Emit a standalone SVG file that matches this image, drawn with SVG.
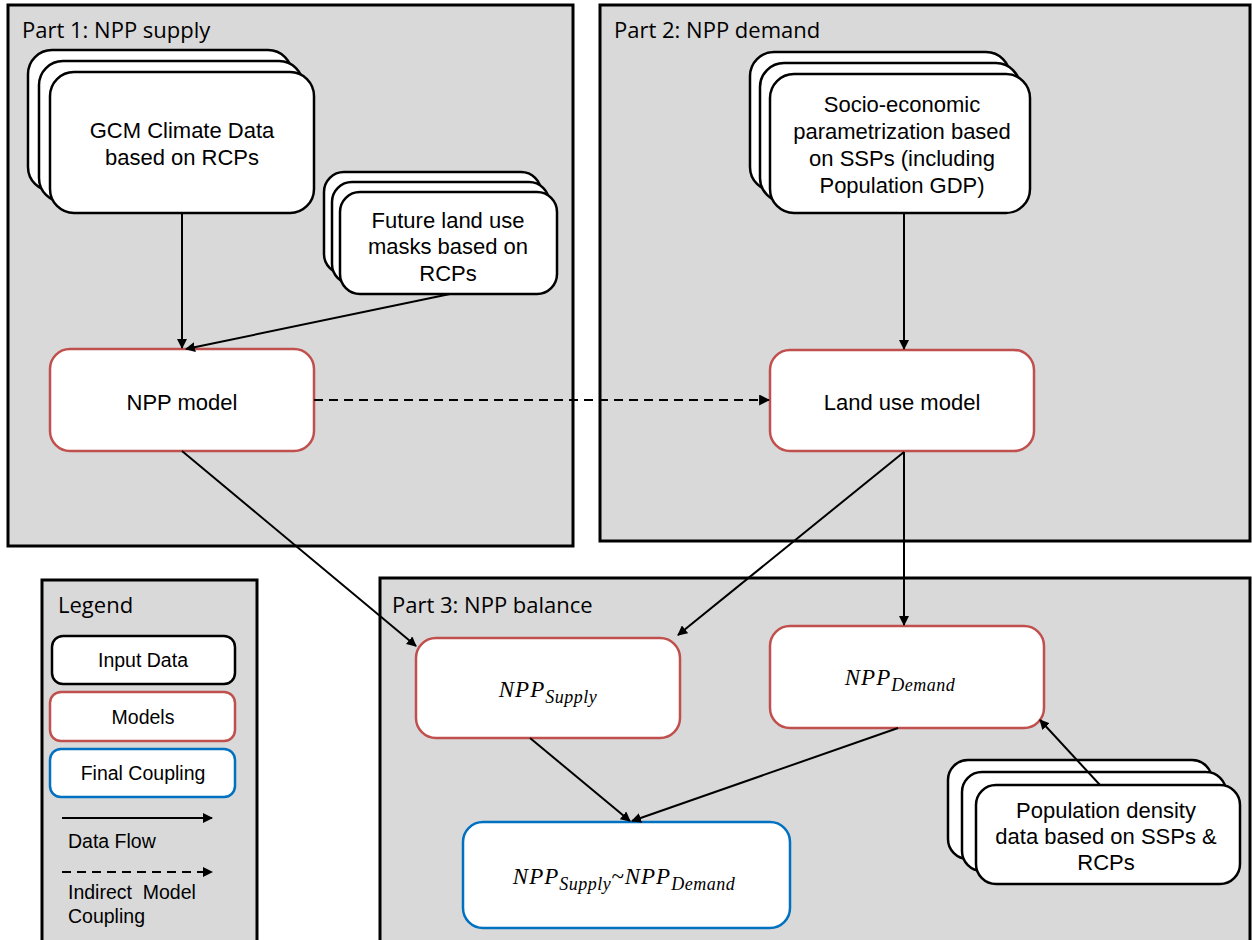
<svg xmlns="http://www.w3.org/2000/svg" width="1252" height="940" viewBox="0 0 1252 940">
<defs>
<marker id="ah" viewBox="0 0 10 10" refX="9" refY="5" markerWidth="10" markerHeight="10" markerUnits="userSpaceOnUse" orient="auto"><path d="M0,0 L10,5 L0,10 z" fill="#000"/></marker>
<marker id="ahl" viewBox="0 0 10 10" refX="9" refY="5" markerWidth="11" markerHeight="11" markerUnits="userSpaceOnUse" orient="auto"><path d="M0,0 L10,5 L0,10 z" fill="#000"/></marker>
</defs>
<style>
.part{fill:#d9d9d9;stroke:#000;stroke-width:3}
.inp{fill:#fff;stroke:#000;stroke-width:2.5}
.mod{fill:#fff;stroke:#c0504d;stroke-width:2.5}
.fin{fill:#fff;stroke:#0070c0;stroke-width:2.5}
.plab{font-family:"Open Sans","Noto Sans",sans-serif;font-size:22px;fill:#000}
.t{font-family:"Liberation Sans",Arial,sans-serif;font-size:22px;fill:#000;text-anchor:middle}
.tl{font-family:"Liberation Sans",Arial,sans-serif;font-size:19.5px;fill:#000;text-anchor:middle}
.ll{font-family:"Liberation Sans",Arial,sans-serif;font-size:19.5px;fill:#000}
.m{font-family:"Liberation Serif","DejaVu Serif",serif;font-style:italic;font-size:23px;fill:#000;text-anchor:middle;letter-spacing:1px}
.sub{font-size:18px;letter-spacing:0.5px}
.c{fill:none;stroke:#000;stroke-width:2}
.d{fill:none;stroke:#000;stroke-width:2;stroke-dasharray:9,6}
</style>
<g id="part1"><rect class="part" x="8" y="5" width="565" height="541"/><text class="plab" x="22" y="38">Part 1: NPP supply</text></g>
<g id="part2"><rect class="part" x="600" y="5" width="650" height="536"/><text class="plab" x="614" y="38">Part 2: NPP demand</text></g>
<g id="part3"><rect class="part" x="380" y="578" width="870" height="364"/><text class="plab" x="392" y="613">Part 3: NPP balance</text></g>
<g id="legend">
<rect class="part" x="42" y="580" width="215" height="362"/>
<text class="plab" x="58" y="613">Legend</text>
<rect class="inp" x="52" y="636" width="183" height="48" rx="11"/><text class="tl" x="143" y="667">Input Data</text>
<rect class="mod" x="50" y="692" width="185" height="49" rx="11"/><text class="tl" x="143" y="724">Models</text>
<rect class="fin" x="50" y="749" width="185" height="48" rx="11"/><text class="tl" x="143" y="780">Final Coupling</text>
<line class="c" x1="62" y1="818" x2="212" y2="818" marker-end="url(#ah)"/>
<text class="ll" x="68" y="848">Data Flow</text>
<line class="d" x1="62" y1="872" x2="212" y2="872" marker-end="url(#ah)"/>
<text class="ll" x="68" y="899" xml:space="preserve">Indirect  Model</text>
<text class="ll" x="68" y="923">Coupling</text>
</g>
<g id="gcm">
<rect class="inp" x="28" y="50" width="264" height="141" rx="24"/>
<rect class="inp" x="39" y="61" width="264" height="141" rx="24"/>
<rect class="inp" x="50" y="72" width="264" height="141" rx="24"/>
<text class="t" x="182" y="138">GCM Climate Data</text>
<text class="t" x="182" y="165">based on RCPs</text>
</g>
<g id="landmask">
<rect class="inp" x="324" y="172" width="217" height="102" rx="20"/>
<rect class="inp" x="332" y="182" width="217" height="102" rx="20"/>
<rect class="inp" x="340" y="192" width="217" height="102" rx="20"/>
<text class="t" x="448" y="228">Future land use</text>
<text class="t" x="448" y="254">masks based on</text>
<text class="t" x="448" y="281">RCPs</text>
</g>
<g id="nppmodel"><rect class="mod" x="50" y="349" width="264" height="102" rx="20"/><text class="t" x="182" y="410">NPP model</text></g>
<g id="socio">
<rect class="inp" x="750" y="52" width="260" height="139" rx="24"/>
<rect class="inp" x="760" y="63" width="260" height="139" rx="24"/>
<rect class="inp" x="770" y="74" width="260" height="139" rx="24"/>
<text class="t" x="902" y="112">Socio-economic</text>
<text class="t" x="902" y="139">parametrization based</text>
<text class="t" x="902" y="166">on SSPs (including</text>
<text class="t" x="902" y="193">Population GDP)</text>
</g>
<g id="landuse"><rect class="mod" x="770" y="350" width="264" height="101" rx="20"/><text class="t" x="902" y="410">Land use model</text></g>
<g id="nppsupply"><rect class="mod" x="416" y="638" width="264" height="100" rx="20"/><text class="m" x="548" y="697">NPP<tspan class="sub" dy="6">Supply</tspan></text></g>
<g id="nppdemand"><rect class="mod" x="770" y="626" width="274" height="102" rx="20"/><text class="m" x="900" y="685">NPP<tspan class="sub" dy="6">Demand</tspan></text></g>
<g id="final"><rect class="fin" x="463" y="822" width="327" height="106" rx="20"/><text class="m" x="624" y="884">NPP<tspan class="sub" dy="6">Supply</tspan><tspan dy="-6">~NPP</tspan><tspan class="sub" dy="6">Demand</tspan></text></g>
<g id="popdens">
<rect class="inp" x="948" y="760" width="264" height="99" rx="20"/>
<rect class="inp" x="962" y="772" width="264" height="99" rx="20"/>
<rect class="inp" x="976" y="785" width="264" height="99" rx="20"/>
<text class="t" x="1106" y="818">Population density</text>
<text class="t" x="1106" y="844">data based on SSPs &amp;</text>
<text class="t" x="1106" y="870">RCPs</text>
</g>
<g id="connectors">
<line class="c" x1="182" y1="213" x2="182" y2="348" marker-end="url(#ah)"/>
<line class="c" x1="450" y1="294" x2="186" y2="349" marker-end="url(#ah)"/>
<line class="d" x1="314" y1="400" x2="769" y2="400" marker-end="url(#ahl)"/>
<line class="c" x1="904" y1="213" x2="904" y2="349" marker-end="url(#ah)"/>
<line class="c" x1="182" y1="451" x2="416" y2="646" marker-end="url(#ah)"/>
<line class="c" x1="904" y1="452" x2="678" y2="635" marker-end="url(#ah)"/>
<line class="c" x1="904" y1="452" x2="904" y2="625" marker-end="url(#ah)"/>
<line class="c" x1="1100" y1="785" x2="1040" y2="720" marker-end="url(#ah)"/>
<line class="c" x1="530" y1="738" x2="630" y2="821" marker-end="url(#ah)"/>
<line class="c" x1="898" y1="728" x2="632" y2="821" marker-end="url(#ah)"/>
</g>
</svg>
